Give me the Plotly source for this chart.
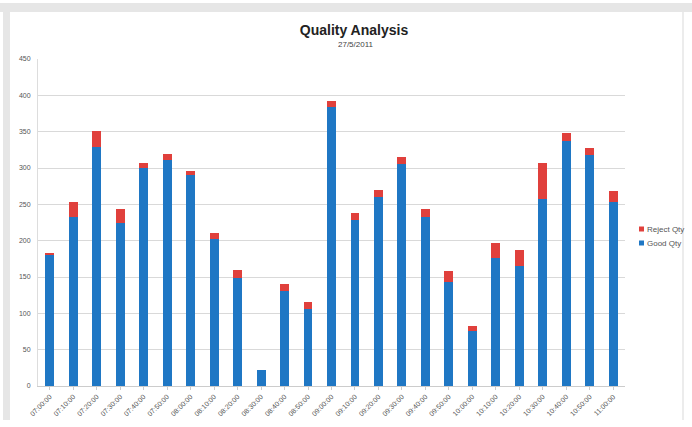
import plotly.graph_objects as go

times = ["07:00:00", "07:10:00", "07:20:00", "07:30:00", "07:40:00", "07:50:00",
         "08:00:00", "08:10:00", "08:20:00", "08:30:00", "08:40:00", "08:50:00",
         "09:00:00", "09:10:00", "09:20:00", "09:30:00", "09:40:00", "09:50:00",
         "10:00:00", "10:10:00", "10:20:00", "10:30:00", "10:40:00", "10:50:00",
         "11:00:00"]
good_qty = [180, 233, 329, 224, 300, 311, 290, 202, 148, 22, 131, 106,
            384, 228, 260, 306, 233, 143, 76, 176, 165, 257, 337, 318, 253]
reject_qty = [3, 20, 22, 19, 7, 8, 6, 9, 11, 0, 9, 9,
              8, 10, 10, 9, 10, 15, 6, 21, 22, 50, 11, 10, 15]
y_ticks = [0, 50, 100, 150, 200, 250, 300, 350, 400, 450]
legend_names = ["Reject Qty", "Good Qty"]

GOOD_C = "#1f77c4"
REJ_C = "#e0403c"

fig = go.Figure()
fig.add_trace(go.Bar(x=times, y=good_qty, name="Good Qty", showlegend=False,
                     marker=dict(color=GOOD_C, line=dict(width=0))))
fig.add_trace(go.Bar(x=times, y=reject_qty, name="Reject Qty", showlegend=False,
                     marker=dict(color=REJ_C, line=dict(width=0))))

W, H = 692, 427
L, R, T, B = 38, 67, 59, 41
PW, PH = W - L - R, H - T - B


def px(x):
    return (x - L) / PW


def py(y):
    return (H - B - y) / PH


fig.update_layout(
    barmode="stack",
    bargap=0.62,
    width=W, height=H,
    margin=dict(l=L, r=R, t=T, b=B, autoexpand=False),
    paper_bgcolor="white",
    plot_bgcolor="white",
    font=dict(family="Liberation Sans, Arial, sans-serif", color="#555555"),
    title=dict(text="<b>Quality Analysis</b>",
               x=354 / W, xanchor="center", y=1 - 30 / H, yanchor="middle",
               font=dict(size=14, color="#222222")),
    showlegend=False,
    xaxis=dict(tickangle=-45, tickfont=dict(size=7, color="#555555"),
               showline=True, linecolor="#cccccc", linewidth=1,
               ticks="outside", ticklen=3, tickcolor="#cccccc",
               showgrid=False, automargin=False),
    yaxis=dict(range=[0, 450], tickvals=y_ticks, tickfont=dict(size=7, color="#555555"),
               showgrid=True, gridcolor="#d9d9d9", gridwidth=1,
               showline=True, linecolor="#dddddd", zeroline=False,
               ticks="", ticklen=0, ticklabelstandoff=5, automargin=False),
)

fig.add_annotation(text="27/5/2011", xref="paper", yref="paper",
                   x=px(356), y=py(44), xanchor="center", yanchor="middle",
                   showarrow=False, font=dict(size=8, color="#444444"))

# Legend (small square keys + labels)
for name, color, ly in [(legend_names[0], REJ_C, 229), (legend_names[1], GOOD_C, 243)]:
    fig.add_shape(type="rect", xref="paper", yref="paper",
                  x0=px(639), x1=px(644), y0=py(ly + 2.5), y1=py(ly - 2.5),
                  fillcolor=color, line=dict(width=0))
    fig.add_annotation(text=name, xref="paper", yref="paper",
                       x=px(645), y=py(ly), xanchor="left", yanchor="middle",
                       showarrow=False, font=dict(size=8, color="#555555"))

# Screenshot frame (window chrome)
fig.add_shape(type="rect", xref="paper", yref="paper",
              x0=px(0), x1=px(W), y0=py(12), y1=py(3),
              fillcolor="#e6e6e6", line=dict(width=0), layer="below")
fig.add_shape(type="rect", xref="paper", yref="paper",
              x0=px(3), x1=px(10), y0=py(420), y1=py(3),
              fillcolor="#e6e6e6", line=dict(width=0), layer="below")
fig.add_shape(type="line", xref="paper", yref="paper",
              x0=px(683), x1=px(683), y0=py(420), y1=py(12),
              line=dict(color="#e6e6e6", width=1.5), layer="below")

fig.write_html("out.html", config={"displayModeBar": False},
               post_script="document.body.style.margin='0px';document.body.style.overflow='hidden';")
